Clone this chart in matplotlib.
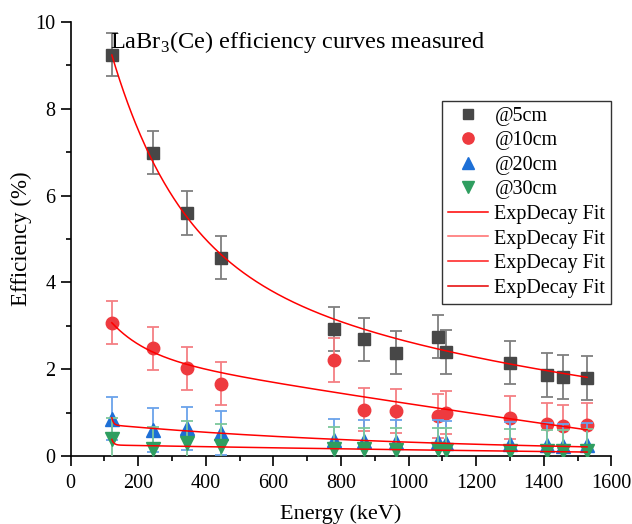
import numpy as np
import matplotlib
matplotlib.use("Agg")
import matplotlib.pyplot as plt
from matplotlib.lines import Line2D

plt.rcParams["font.family"] = ["Liberation Serif", "DejaVu Serif"]
plt.rcParams["mathtext.fontset"] = "custom"
plt.rcParams["mathtext.rm"] = "Liberation Serif"

# =========================
# DATA
# =========================
energy = [122, 244, 344, 444, 779, 867, 964, 1086, 1112, 1299, 1408, 1458, 1528]

eff_5cm = [9.25, 6.99, 5.60, 4.57, 2.93, 2.69, 2.38, 2.75, 2.40, 2.15, 1.87, 1.82, 1.80]
eff_10cm = [3.07, 2.48, 2.02, 1.67, 2.21, 1.07, 1.04, 0.92, 1.00, 0.88, 0.73, 0.68, 0.71]
eff_20cm = [0.86, 0.60, 0.64, 0.53, 0.36, 0.34, 0.32, 0.33, 0.31, 0.28, 0.25, 0.24, 0.25]
eff_30cm = [0.38, 0.17, 0.30, 0.24, 0.17, 0.15, 0.14, 0.15, 0.14, 0.12, 0.11, 0.11, 0.12]

err_5cm = [0.5] * 13
err_10cm = [0.5] * 13
err_20cm = [0.5] * 13
err_30cm = [0.5] * 13

# ExpDecay fit parameters: y0, A1, t1, A2, t2 (x measured from first energy)
fit_5cm = (0.0, 4.62, 200.0, 4.62, 1500.0)
fit_10cm = (-8.21, 0.774, 110.0, 10.506, 8000.0)
fit_20cm = (0.07, 0.165, 5.0, 0.645, 920.0)
fit_30cm = (-0.179, 0.13, 6.0, 0.431, 3000.0)


def exp_decay(x, p):
    y0, a1, t1, a2, t2 = p
    dx = x - energy[0]
    return y0 + a1 * np.exp(-dx / t1) + a2 * np.exp(-dx / t2)


# =========================
# FIGURE
# =========================
fig = plt.figure(figsize=(6.32, 5.24), dpi=100)
ax = fig.add_axes([0.1117, 0.1298, 0.8557, 0.8282])

series = [
    ("@5cm", eff_5cm, err_5cm, "s", "#474747", "#7f7f7f", 8.5),
    ("@10cm", eff_10cm, err_10cm, "o", "#ee3a3f", "#f47f83", 9),
    ("@20cm", eff_20cm, err_20cm, "^", "#1d6fd6", "#6aa3ea", 9.5),
    ("@30cm", eff_30cm, err_30cm, "v", "#2f9e60", "#7cc79c", 9.5),
]

handles = []
for i, (lab, y, e, mk, col, ecol, ms) in enumerate(series):
    ax.errorbar(energy, y, yerr=e, fmt="none", ecolor=ecol, elinewidth=1.3,
                capsize=4, capthick=1.3, zorder=2 + i)
    ax.plot(energy, y, mk, color=col, markersize=ms, zorder=3 + i)
    handles.append(Line2D([], [], marker=mk, color=col, linestyle="none",
                          markersize=ms * 0.9, label=lab))

# fit curves
xf = np.linspace(energy[0], energy[-1], 600)
fit_colors = ["#ff0000", "#ff6a6a", "#ff1a1a", "#e60000"]
for p, c in zip([fit_5cm, fit_10cm, fit_20cm, fit_30cm], fit_colors):
    ax.plot(xf, exp_decay(xf, p), color="#ff0000", lw=1.1, zorder=10)
    handles.append(Line2D([], [], color=c, lw=1.1, label="ExpDecay Fit"))

# =========================
# AXES STYLE
# =========================
ax.set_xlim(0, 1600)
ax.set_ylim(0, 10)
ax.set_xticks(np.arange(0, 1601, 200))
ax.set_xticks(np.arange(100, 1600, 200), minor=True)
ax.set_yticks(np.arange(0, 11, 2))
ax.set_yticks(np.arange(1, 10, 2), minor=True)

for s in ["top", "right"]:
    ax.spines[s].set_visible(False)
for s in ["left", "bottom"]:
    ax.spines[s].set_linewidth(1.2)

ax.tick_params(which="major", direction="out", length=7, width=1.2,
               labelsize=14.5, pad=4)
ax.tick_params(axis="x", which="major", pad=6)
ax.tick_params(which="minor", direction="out", length=3.5, width=1.2)

ax.set_xlabel("Energy (keV)", fontsize=16, labelpad=8)
ax.set_ylabel("Efficiency (%)", fontsize=16.5, labelpad=2)

ax.text(0.073, 0.939, "LaBr$_3$(Ce) efficiency curves measured",
        transform=ax.transAxes, fontsize=17.5, va="baseline", ha="left")

leg = ax.legend(handles=handles, loc="upper right",
                bbox_to_anchor=(1.0, 0.8187), fontsize=14.5,
                frameon=True, fancybox=False, edgecolor="black",
                handlelength=2.0, handletextpad=0.3, labelspacing=0.27,
                borderpad=0.3, borderaxespad=0)
leg.get_frame().set_linewidth(1.0)

fig.savefig("out.png", dpi=100)
